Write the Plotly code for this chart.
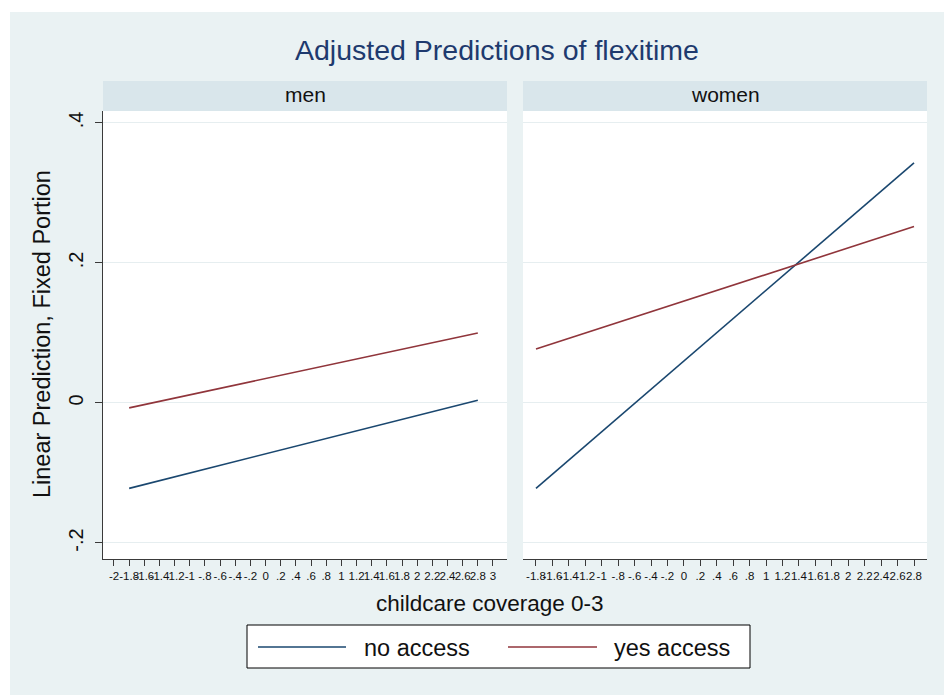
import plotly.graph_objects as go

# ---- data ----
x_points = [-1.8, 2.8]
men_no_access = [-0.122, 0.004]
men_yes_access = [-0.007, 0.100]
women_no_access = [-0.122, 0.343]
women_yes_access = [0.077, 0.252]

men_tickvals = [-2, -1.8, -1.6, -1.4, -1.2, -1, -0.8, -0.6, -0.4, -0.2, 0, 0.2, 0.4, 0.6, 0.8,
                1, 1.2, 1.4, 1.6, 1.8, 2, 2.2, 2.4, 2.6, 2.8, 3]
men_ticktext = ["-2", "-1.8", "-1.6", "-1.4", "-1.2", "-1", "-.8", "-.6", "-.4", "-.2", "0", ".2", ".4",
                ".6", ".8", "1", "1.2", "1.4", "1.6", "1.8", "2", "2.2", "2.4", "2.6", "2.8", "3"]
women_tickvals = men_tickvals[1:-1]
women_ticktext = men_ticktext[1:-1]
y_tickvals = [-0.2, 0, 0.2, 0.4]
y_ticktext = ["-.2", "0", ".2", ".4"]

NAVY = "#1A476F"
MAROON = "#90353B"
BG = "#EAF2F3"
STRIP = "#D9E6EB"
GRID = "#E6EEF0"
FONT = "Liberation Sans, Arial, sans-serif"

W, H = 944, 695
L, R, T, B = 103, 927, 111, 559  # plot area in px
pw, ph = R - L, B - T


def px(x):
    return (x - L) / pw


def py(y):
    return (B - y) / ph


fig = go.Figure()
fig.add_trace(go.Scatter(x=x_points, y=men_no_access, mode="lines", line=dict(color=NAVY, width=1.6),
                         xaxis="x", yaxis="y", showlegend=False, name="no access"))
fig.add_trace(go.Scatter(x=x_points, y=men_yes_access, mode="lines", line=dict(color=MAROON, width=1.6),
                         xaxis="x", yaxis="y", showlegend=False, name="yes access"))
fig.add_trace(go.Scatter(x=x_points, y=women_no_access, mode="lines", line=dict(color=NAVY, width=1.6),
                         xaxis="x2", yaxis="y2", showlegend=False, name="no access"))
fig.add_trace(go.Scatter(x=x_points, y=women_yes_access, mode="lines", line=dict(color=MAROON, width=1.6),
                         xaxis="x2", yaxis="y2", showlegend=False, name="yes access"))

yrange = [-0.2229, 0.4171]
common_x = dict(showgrid=False, zeroline=False, showline=True, linecolor="#3a3a3a", linewidth=1,
                ticks="outside", ticklen=6, tickcolor="#3a3a3a", tickangle=0,
                tickfont=dict(family=FONT, size=11.5, color="#111"), tickmode="array")
fig.update_layout(
    width=W, height=H,
    margin=dict(l=L, r=W - R, t=T, b=H - B, pad=0),
    paper_bgcolor=BG, plot_bgcolor="white",
    showlegend=False,
    xaxis=dict(domain=[0, px(507)], range=[-2.145, 3.185], anchor="y",
               tickvals=men_tickvals, ticktext=men_ticktext, **common_x),
    xaxis2=dict(domain=[px(523), 1], range=[-1.958, 2.958], anchor="y2",
                tickvals=women_tickvals, ticktext=women_ticktext, **common_x),
    yaxis=dict(domain=[0, 1], range=yrange, anchor="x", showgrid=True, gridcolor=GRID, gridwidth=1,
               zeroline=False, showline=True, linecolor="#3a3a3a", linewidth=1,
               ticks="outside", ticklen=7, tickcolor="#3a3a3a", tickmode="array",
               tickvals=y_tickvals, ticktext=y_ticktext, tickangle=-90, ticklabelstandoff=4,
               tickfont=dict(family=FONT, size=20, color="#111")),
    yaxis2=dict(domain=[0, 1], range=yrange, anchor="x2", showgrid=True, gridcolor=GRID, gridwidth=1,
                zeroline=False, showline=False, showticklabels=False, ticks="",
                tickmode="array", tickvals=y_tickvals),
)

shapes = []
# white outer margin strips (left and top)
shapes.append(dict(type="rect", xref="paper", yref="paper", x0=px(0), x1=px(10), y0=py(H), y1=py(0),
                   fillcolor="white", line=dict(width=0), layer="above"))
shapes.append(dict(type="rect", xref="paper", yref="paper", x0=px(0), x1=px(W), y0=py(12), y1=py(0),
                   fillcolor="white", line=dict(width=0), layer="above"))
# strip headers
for x0, x1 in [(103, 507), (523, 927)]:
    shapes.append(dict(type="rect", xref="paper", yref="paper", x0=px(x0), x1=px(x1), y0=py(111), y1=py(81),
                       fillcolor=STRIP, line=dict(width=0), layer="above"))
# legend box
shapes.append(dict(type="rect", xref="paper", yref="paper", x0=px(247), x1=px(750), y0=py(668), y1=py(625),
                   fillcolor="white", line=dict(color="black", width=1), layer="above"))
shapes.append(dict(type="line", xref="paper", yref="paper", x0=px(258), x1=px(346), y0=py(647), y1=py(647),
                   line=dict(color=NAVY, width=1.6), layer="above"))
shapes.append(dict(type="line", xref="paper", yref="paper", x0=px(508), x1=px(597), y0=py(647), y1=py(647),
                   line=dict(color=MAROON, width=1.6), layer="above"))
fig.update_layout(shapes=shapes)

ann = [
    dict(text="Adjusted Predictions of flexitime", x=px(497), y=py(50), font=dict(size=28.5, color="#1E3A6E")),
    dict(text="men", x=px(305), y=py(95), font=dict(size=21, color="#111")),
    dict(text="women", x=px(725), y=py(95), font=dict(size=21, color="#111")),
    dict(text="childcare coverage 0-3", x=px(490), y=py(603), font=dict(size=22.5, color="#111")),
    dict(text="Linear Prediction, Fixed Portion", x=px(42), y=py(334), textangle=-90,
         font=dict(size=23.5, color="#111")),
    dict(text="no access", x=px(362), y=py(648), xanchor="left", font=dict(size=23.5, color="#111")),
    dict(text="yes access", x=px(612), y=py(648), xanchor="left", font=dict(size=23.5, color="#111")),
]
annotations = []
for a in ann:
    d = dict(xref="paper", yref="paper", showarrow=False, xanchor="center", yanchor="middle")
    d.update(a)
    d["font"] = dict(family=FONT, **a["font"])
    annotations.append(d)
fig.update_layout(annotations=annotations)

fig.write_html("out.html", config={"displayModeBar": False},
               post_script="document.body.style.margin='0';document.body.style.padding='0';")
